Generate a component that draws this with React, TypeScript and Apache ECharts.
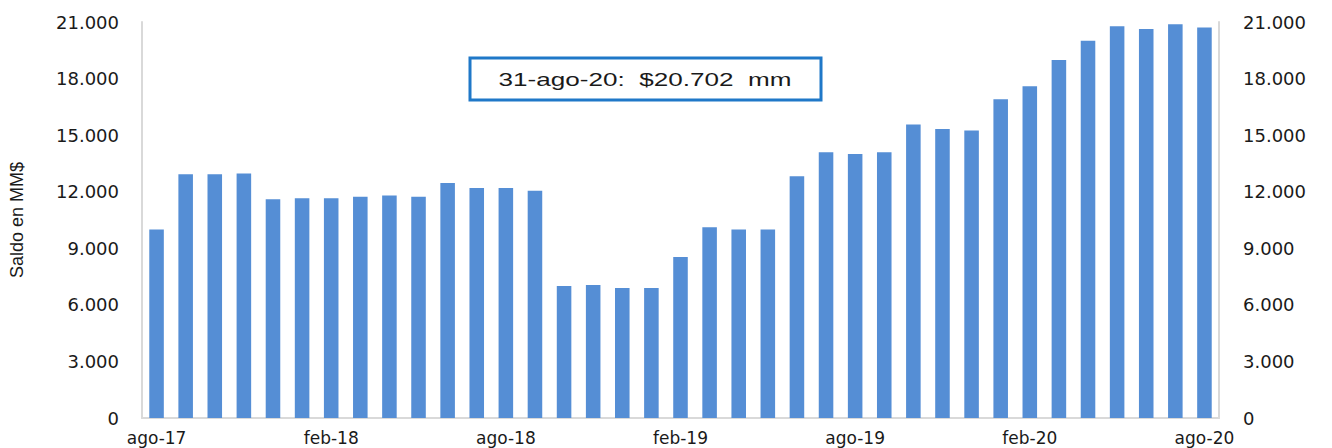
import React, { useEffect, useRef } from "react";
import * as echarts from "echarts";

const categories: string[] = [
  "ago-17", "sep-17", "oct-17", "nov-17", "dic-17", "ene-18",
  "feb-18", "mar-18", "abr-18", "may-18", "jun-18", "jul-18",
  "ago-18", "sep-18", "oct-18", "nov-18", "dic-18", "ene-19",
  "feb-19", "mar-19", "abr-19", "may-19", "jun-19", "jul-19",
  "ago-19", "sep-19", "oct-19", "nov-19", "dic-19", "ene-20",
  "feb-20", "mar-20", "abr-20", "may-20", "jun-20", "jul-20",
  "ago-20",
];

const saldo: number[] = [
  10000, 12920, 12920, 12970, 11600, 11650,
  11650, 11730, 11800, 11730, 12460, 12200,
  12200, 12050, 7000, 7050, 6890, 6890,
  8540, 10110, 10000, 10000, 12820, 14090,
  14000, 14090, 15570, 15320, 15250, 16900,
  17590, 18980, 20000, 20780, 20630, 20880,
  20702,
];

const yTicks = { min: 0, max: 21000, interval: 3000 };
const annotation = "31-ago-20:  $20.702  mm";
const axisName = "Saldo en MM$";

const fmt = (v: number) => (v === 0 ? "0" : v.toLocaleString("de-DE"));

export default function App() {
  const ref = useRef<HTMLDivElement>(null);
  useEffect(() => {
    if (!ref.current) return;
    const chart = echarts.init(ref.current, undefined, { renderer: "svg" });
    const tickFont = { fontFamily: "DejaVu Sans", fontSize: 18, color: "#1a1a1a" };
    chart.setOption({
      animation: false,
      backgroundColor: "#ffffff",
      grid: {
        left: 142,
        right: 113,
        top: 22,
        bottom: 30,
        containLabel: false,
        outerBoundsMode: "none",
      },
      xAxis: {
        type: "category",
        data: categories,
        boundaryGap: true,
        axisLine: { show: true, lineStyle: { color: "#d9d9d9", width: 2 } },
        axisTick: { show: false },
        axisLabel: {
          interval: 5,
          margin: 11,
          fontFamily: "DejaVu Sans",
          fontSize: 17,
          color: "#1a1a1a",
        },
      },
      yAxis: [
        {
          type: "value",
          ...yTicks,
          position: "left",
          name: axisName,
          nameLocation: "middle",
          nameRotate: 90,
          nameGap: 116,
          nameTextStyle: { fontFamily: "Liberation Sans", fontSize: 18, color: "#1a1a1a" },
          axisLine: { show: true, lineStyle: { color: "#d9d9d9", width: 2 } },
          axisTick: { show: false },
          splitLine: { show: false },
          axisLabel: { ...tickFont, margin: 23, formatter: fmt },
        },
        {
          type: "value",
          ...yTicks,
          position: "right",
          axisLine: { show: true, lineStyle: { color: "#d9d9d9", width: 2 } },
          axisTick: { show: false },
          splitLine: { show: false },
          axisLabel: { ...tickFont, margin: 24, formatter: fmt },
        },
      ],
      series: [
        {
          type: "bar",
          data: saldo,
          yAxisIndex: 0,
          barWidth: "50%",
          itemStyle: { color: "#558ed5" },
        },
      ],
      graphic: [
        {
          type: "rect",
          shape: { x: 470, y: 58, width: 351, height: 42 },
          style: { fill: "#ffffff", stroke: "#1f78c8", lineWidth: 3 },
          z: 10,
        },
        {
          type: "text",
          x: 645,
          y: 80,
          scaleX: 1.45,
          style: {
            text: annotation,
            fontFamily: "Liberation Sans",
            fontSize: 18,
            fill: "#1a1a1a",
            align: "center",
            verticalAlign: "middle",
          },
          z: 11,
        },
      ],
    });
    return () => chart.dispose();
  }, []);
  return (
    <div
      ref={ref}
      style={{ position: "absolute", left: 0, top: 0, width: 1332, height: 448 }}
    />
  );
}
